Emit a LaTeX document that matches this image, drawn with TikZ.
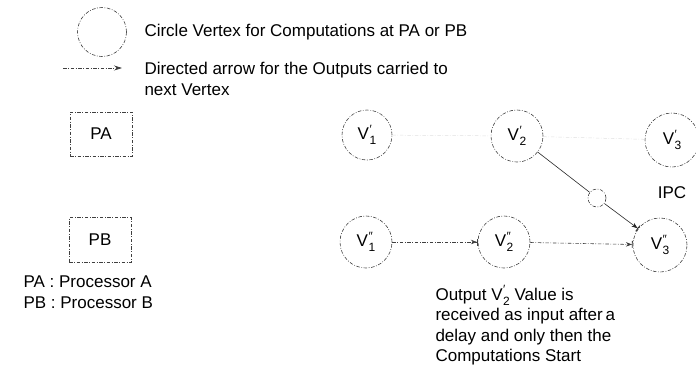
\documentclass[tikz,border=0pt]{standalone}
\usepackage{fontspec}
\setmainfont{Liberation Sans}
\usetikzlibrary{arrows.meta}
\newcommand\vtxlab[2]{V\kern0.5pt\raisebox{-0.55ex}{\fontsize{12}{9}\selectfont\shortstack[l]{#2\\#1}}}
\begin{document}
\begin{tikzpicture}[x=1pt,y=-1pt,
  font=\fontsize{17}{20.5}\selectfont,
  dd/.style={line width=0.6pt, draw=black!75, dash pattern=on 3.5pt off 1.6pt on 0.8pt off 1.6pt},
  vert/.style={dd, circle, inner sep=0pt, minimum size=#1},
  vert/.default=52pt,
  procbox/.style={dd, rectangle, inner sep=0pt},
  flow/.style={dd, -{Stealth[length=6pt,width=4.5pt,fill=black!80]Bar[width=7pt,line width=0.8pt]}},
  ipcline/.style={line width=0.6pt, draw=black!85},
  faint/.style={line width=0.5pt, draw=black!12, dash pattern=on 3.5pt off 1.6pt on 0.8pt off 1.6pt}
]
\useasboundingbox (0,0) rectangle (696,365);

% legend
\node[vert=49pt] (legc) at (102,32) {};
\node[anchor=west] (legct) at (141,32) {Circle Vertex for Computations at PA or PB};
\coordinate (lega) at (63,68);
\coordinate (legb) at (122,68);
\draw[dd, -{Stealth[length=8pt,width=5pt,fill=black!80]}] (lega) -- (legb);
\node[anchor=west, align=left] (legat) at (141,79) {Directed arrow for the Outputs carried to\\next Vertex};

% processor boxes
\node[procbox, minimum width=62pt, minimum height=44pt] (pa) at (101,134) {PA};
\node[procbox, minimum width=62pt, minimum height=45pt] (pb) at (100,240) {PB};
\node[anchor=west, align=left] (key) at (20,292) {PA : Processor A\\PB : Processor B};

% top row (PA)
\node[vert=50pt] (v1a) at (367,135) {\vtxlab{1}{′}};
\node[vert=52pt] (v2a) at (517,136) {\vtxlab{2}{′}};
\node[vert=54pt] (v3a) at (672,140) {\vtxlab{3}{′}};
\draw[faint] (v1a) -- (v2a);
\draw[faint] (v2a) -- (v3a);

% bottom row (PB)
\node[vert=52pt] (v1b) at (366,242) {\vtxlab{1}{″}};
\node[vert=52pt] (v2b) at (504,242) {\vtxlab{2}{″}};
\node[vert=54pt] (v3b) at (660,245) {\vtxlab{3}{″}};
\draw[flow] (v1b) -- (v2b);
\draw[flow] (v2b) -- (v3b);

% IPC
\node[vert=18pt] (ipc) at (597,198) {};
\node (ipct) at (672,193) {IPC};
\draw[ipcline] (v2a) -- (ipc);
\draw[ipcline, -{Stealth[length=6pt,width=4.5pt]Bar[width=7pt,line width=0.8pt]}] (ipc) -- (v3b);

% note
\node[anchor=north west, align=left] (note) at (432,282) {Output \vtxlab{2}{′} Value is\\received as input after\,a\\delay and only then the\\Computations Start};
\end{tikzpicture}
\end{document}
